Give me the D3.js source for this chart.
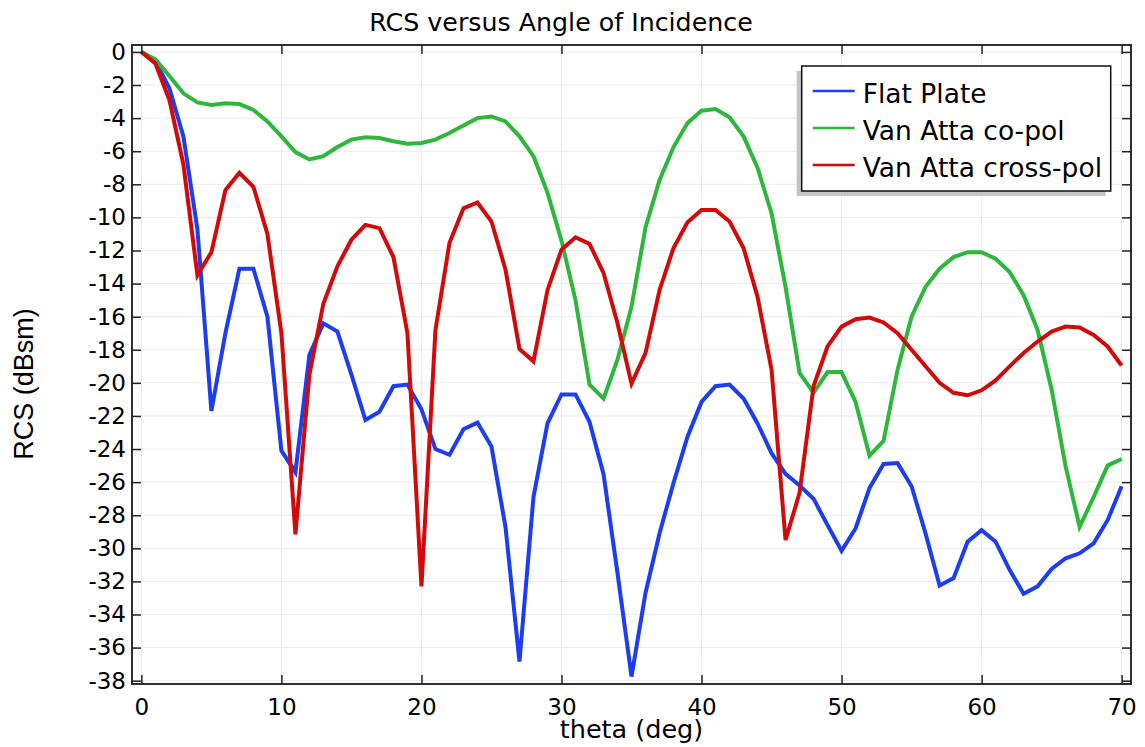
<!DOCTYPE html>
<html>

<head>
    <title>RCS versus Angle of Incidence</title>
    <script src="https://d3js.org/d3.v7.min.js"></script>
    <style>
        body { margin: 0; background: #fff; }
        text { font-family: "DejaVu Sans", sans-serif; fill: #000; }
    </style>
</head>

<body>

    <svg width="1145" height="747" id="mainSvg"></svg>
    <script>
        // theta in degrees, one sample per degree
        const theta = d3.range(0, 71);

        const flatPlate = [
            0, -0.55, -2.2, -5.1, -10.7, -21.7, -17.0, -13.1, -13.1, -16.0,
            -24.1, -25.4, -18.3, -16.4, -16.9, -19.5, -22.25, -21.75, -20.2, -20.1,
            -21.6, -24.0, -24.35, -22.8, -22.4, -23.85, -28.7, -36.85, -26.9, -22.45,
            -20.7, -20.7, -22.35, -25.5, -31.5, -37.75, -32.7, -29.1, -26.05, -23.25,
            -21.15, -20.2, -20.1, -20.95, -22.45, -24.25, -25.5, -26.2, -27.0, -28.6,
            -30.15, -28.8, -26.35, -24.9, -24.85, -26.25, -29.1, -32.25, -31.8, -29.6,
            -28.9, -29.6, -31.3, -32.75, -32.3, -31.25, -30.6, -30.3, -29.7, -28.3,
            -26.25
        ];

        const vanAttaCo = [
            0, -0.45, -1.45, -2.5, -3.05, -3.2, -3.1, -3.15, -3.5, -4.2,
            -5.1, -6.05, -6.5, -6.3, -5.75, -5.3, -5.15, -5.2, -5.4, -5.55,
            -5.5, -5.3, -4.9, -4.45, -4.0, -3.9, -4.2, -5.1, -6.3, -8.5,
            -11.4, -15.0, -20.1, -20.95, -18.6, -15.4, -10.6, -7.75, -5.75, -4.3,
            -3.55, -3.45, -3.95, -5.1, -7.0, -9.75, -14.2, -19.4, -20.6, -19.35,
            -19.35, -21.15, -24.4, -23.5, -19.2, -16.0, -14.2, -13.1, -12.4, -12.1,
            -12.1, -12.5, -13.3, -14.7, -16.8, -20.4, -25.05, -28.7, -26.9, -25.0,
            -24.6
        ];

        const vanAttaCross = [
            0, -0.7, -2.9, -6.8, -13.5, -12.1, -8.35, -7.3, -8.15, -11.0,
            -17.0, -29.15, -19.5, -15.2, -12.95, -11.35, -10.45, -10.65, -12.4, -17.0,
            -32.3, -16.8, -11.55, -9.45, -9.1, -10.25, -13.15, -17.95, -18.7, -14.4,
            -11.95, -11.2, -11.6, -13.35, -16.4, -20.05, -18.2, -14.4, -11.85, -10.3,
            -9.55, -9.55, -10.25, -11.85, -14.8, -19.2, -29.5, -26.65, -20.2, -17.8,
            -16.6, -16.15, -16.05, -16.35, -17.0, -18.0, -19.0, -20.0, -20.6, -20.75,
            -20.45, -19.85, -19.0, -18.2, -17.5, -16.9, -16.6, -16.65, -17.1, -17.8,
            -18.95
        ];

        const seriesNames = ["Flat Plate", "Van Atta co-pol", "Van Atta cross-pol"];
        const seriesColors = ["#1c3df2", "#2db83c", "#d40a0a"];
        const xTicks = [0, 10, 20, 30, 40, 50, 60, 70];
        const yTicks = d3.range(0, -39, -2);

        const mainSvg = d3.select("#mainSvg");

        const margin = { top: 45, left: 132, right: 14, bottom: 63 };
        const innerWidth = 1145 - margin.left - margin.right;
        const innerHeight = 747 - margin.top - margin.bottom;

        const g = mainSvg.append("g")
            .attr("transform", `translate(${margin.left}, ${margin.top})`);

        const xScale = d3.scaleLinear()
            .domain([-0.67, 70.67])
            .range([0, innerWidth]);

        const yScale = d3.scaleLinear()
            .domain([0.42, -38.2])
            .range([0, innerHeight]);

        // grid
        g.append("g").selectAll("line").data(yTicks).join("line")
            .attr("x1", 0).attr("x2", innerWidth)
            .attr("y1", d => yScale(d)).attr("y2", d => yScale(d))
            .attr("stroke", "#ebebeb").attr("stroke-width", 1);
        g.append("g").selectAll("line").data(xTicks).join("line")
            .attr("y1", 0).attr("y2", innerHeight)
            .attr("x1", d => xScale(d)).attr("x2", d => xScale(d))
            .attr("stroke", "#ebebeb").attr("stroke-width", 1);

        // data lines
        const line = d3.line()
            .x((d, i) => xScale(theta[i]))
            .y(d => yScale(d));

        [flatPlate, vanAttaCo, vanAttaCross].forEach((s, i) => {
            g.append("path")
                .datum(s)
                .attr("fill", "none")
                .attr("stroke", seriesColors[i])
                .attr("stroke-width", 4)
                .attr("d", line);
        });

        // axes with inward ticks on all four sides
        const xAxis = g.append("g")
            .attr("transform", `translate(0, ${innerHeight})`)
            .call(d3.axisBottom(xScale).tickValues(xTicks).tickSize(-9).tickPadding(15));
        const yAxis = g.append("g")
            .call(d3.axisLeft(yScale).tickValues(yTicks).tickSize(-9).tickPadding(6)
                .tickFormat(d3.format("d")));
        const topAxis = g.append("g")
            .call(d3.axisTop(xScale).tickValues(xTicks).tickSize(-9));
        const rightAxis = g.append("g")
            .attr("transform", `translate(${innerWidth}, 0)`)
            .call(d3.axisRight(yScale).tickValues(yTicks).tickSize(-9));
        topAxis.selectAll(".tick text").remove();
        rightAxis.selectAll(".tick text").remove();

        g.selectAll(".domain").remove();
        g.selectAll(".tick line").attr("stroke", "#222").attr("stroke-width", 1.5);
        g.selectAll(".tick text")
            .attr("font-size", 23)
            .attr("font-family", "DejaVu Sans")
            .attr("fill", "#000");
        yAxis.selectAll(".tick text").text(d => d === 0 ? "0" : "-" + Math.abs(d));

        // frame
        g.append("rect")
            .attr("width", innerWidth)
            .attr("height", innerHeight)
            .attr("fill", "none")
            .attr("stroke", "#1a1a1a")
            .attr("stroke-width", 1.8);

        // legend
        const legend = g.append("g").attr("transform", `translate(${801.7 - margin.left}, ${66 - margin.top})`);
        legend.append("rect")
            .attr("x", -5).attr("y", 5)
            .attr("width", 309).attr("height", 125)
            .attr("fill", "#c4c4c4");
        legend.append("rect")
            .attr("width", 309).attr("height", 125)
            .attr("fill", "#fff")
            .attr("stroke", "#111")
            .attr("stroke-width", 1.5);
        seriesNames.forEach((name, i) => {
            const y = 25 + i * 37;
            legend.append("line")
                .attr("x1", 11).attr("x2", 53)
                .attr("y1", y).attr("y2", y)
                .attr("stroke", seriesColors[i])
                .attr("stroke-width", 2.5);
            legend.append("text")
                .attr("x", 61).attr("y", y + 12)
                .attr("font-size", 26.5)
                .text(name);
        });

        // titles
        mainSvg.append("text")
            .attr("x", 561)
            .attr("y", 30.5)
            .attr("text-anchor", "middle")
            .attr("font-size", 25.3)
            .text("RCS versus Angle of Incidence");

        mainSvg.append("text")
            .attr("x", margin.left + innerWidth / 2)
            .attr("y", 738)
            .attr("text-anchor", "middle")
            .attr("font-size", 25.5)
            .text("theta (deg)");

        mainSvg.append("text")
            .attr("transform", "translate(33, 384) rotate(-90)")
            .attr("text-anchor", "middle")
            .attr("font-size", 27)
            .style("font-family", "'Liberation Sans', Arial, sans-serif")
            .text("RCS (dBsm)");
    </script>
</body>

</html>
